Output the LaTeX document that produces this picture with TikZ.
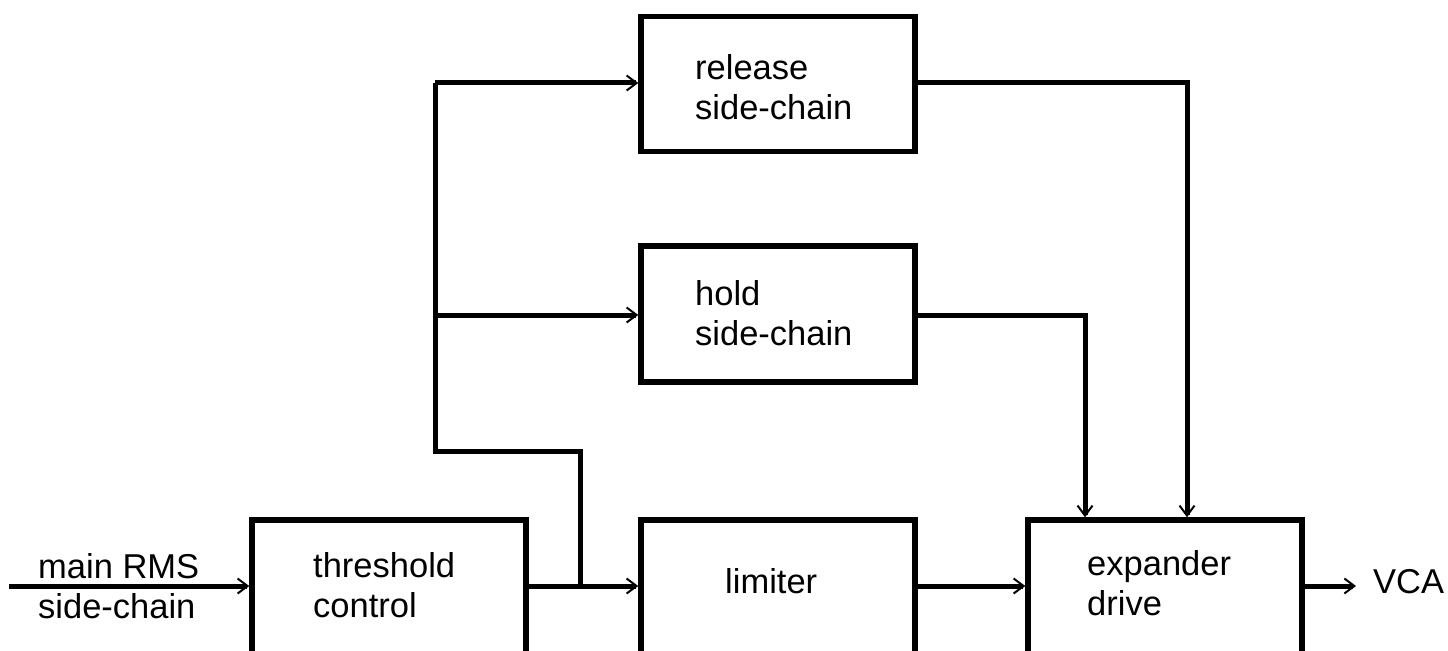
\documentclass[tikz,border=0pt]{standalone}
\usepackage{fontspec}
\setmainfont{Liberation Sans}
\usetikzlibrary{arrows.meta}

\begin{document}
\begin{tikzpicture}[x=1bp,y=-1bp,
  block/.style={draw, line width=5.5bp, rectangle, inner sep=0pt, minimum width=274bp},
  wire/.style={line width=5bp},
  arr/.style={wire, -{Straight Barb[length=10bp,width=15bp,line width=2bp]}},
  lbl/.style={anchor=base west, inner sep=0pt, align=left,
    font=\fontsize{34.5bp}{40bp}\selectfont},
]
\useasboundingbox (0,0) rectangle (1448,651);
\clip (0,0) rectangle (1448,651);

% blocks
\node[block, minimum height=135bp] (rel) at (778,84) {};
\node[block, minimum height=136bp] (hold) at (778,314) {};
\node[block, minimum height=200bp, minimum width=274bp] (thr) at (389,620) {};
\node[block, minimum height=200bp] (lim) at (778,620) {};
\node[block, minimum height=200bp] (exp) at (1165,620) {};

% block captions (base = baseline of the last line)
\node[lbl] (relT) at (695,120) {release\\side-chain};
\node[lbl] (holdT) at (695,345) {hold\\side-chain};
\node[lbl] (thrT) at (313,617) {threshold\\control};
\node[lbl] (limT) at (725,593) {limiter};
\node[lbl] (expT) at (1087,615) {expander\\drive};

% signal labels
\node[lbl] (inT) at (38,618) {main RMS\\side-chain};
\node[lbl, inner xsep=17bp] (vca) at (1356,593) {VCA};

% routing points
\coordinate (in) at (9,586);
\coordinate (split) at (580,586);
\coordinate (bend) at (580,451);
\coordinate (bus) at (435,451);
\coordinate (busTop) at (435,83);
\coordinate (busMid) at (435,315);
\coordinate (holdOut) at (1085,315);
\coordinate (relOut) at (1187,83);

% connectors
\draw[arr] (in) -- (in -| thr.west);
\draw[arr] (thr.east |- in) -- (lim.west |- in);
\draw[wire] (split) -- (bend) -- (bus) -- (busTop);
\draw[arr] (busTop) -- (busTop -| rel.west);
\draw[arr] (busMid) -- (busMid -| hold.west);
\draw[arr] (hold.east |- holdOut) -- (holdOut) -- (holdOut |- exp.north);
\draw[arr] (rel.east |- relOut) -- (relOut) -- (relOut |- exp.north);
\draw[arr] (lim.east |- in) -- (exp.west |- in);
\draw[arr] (exp.east |- in) -- (vca.west |- in);
\end{tikzpicture}
\end{document}
